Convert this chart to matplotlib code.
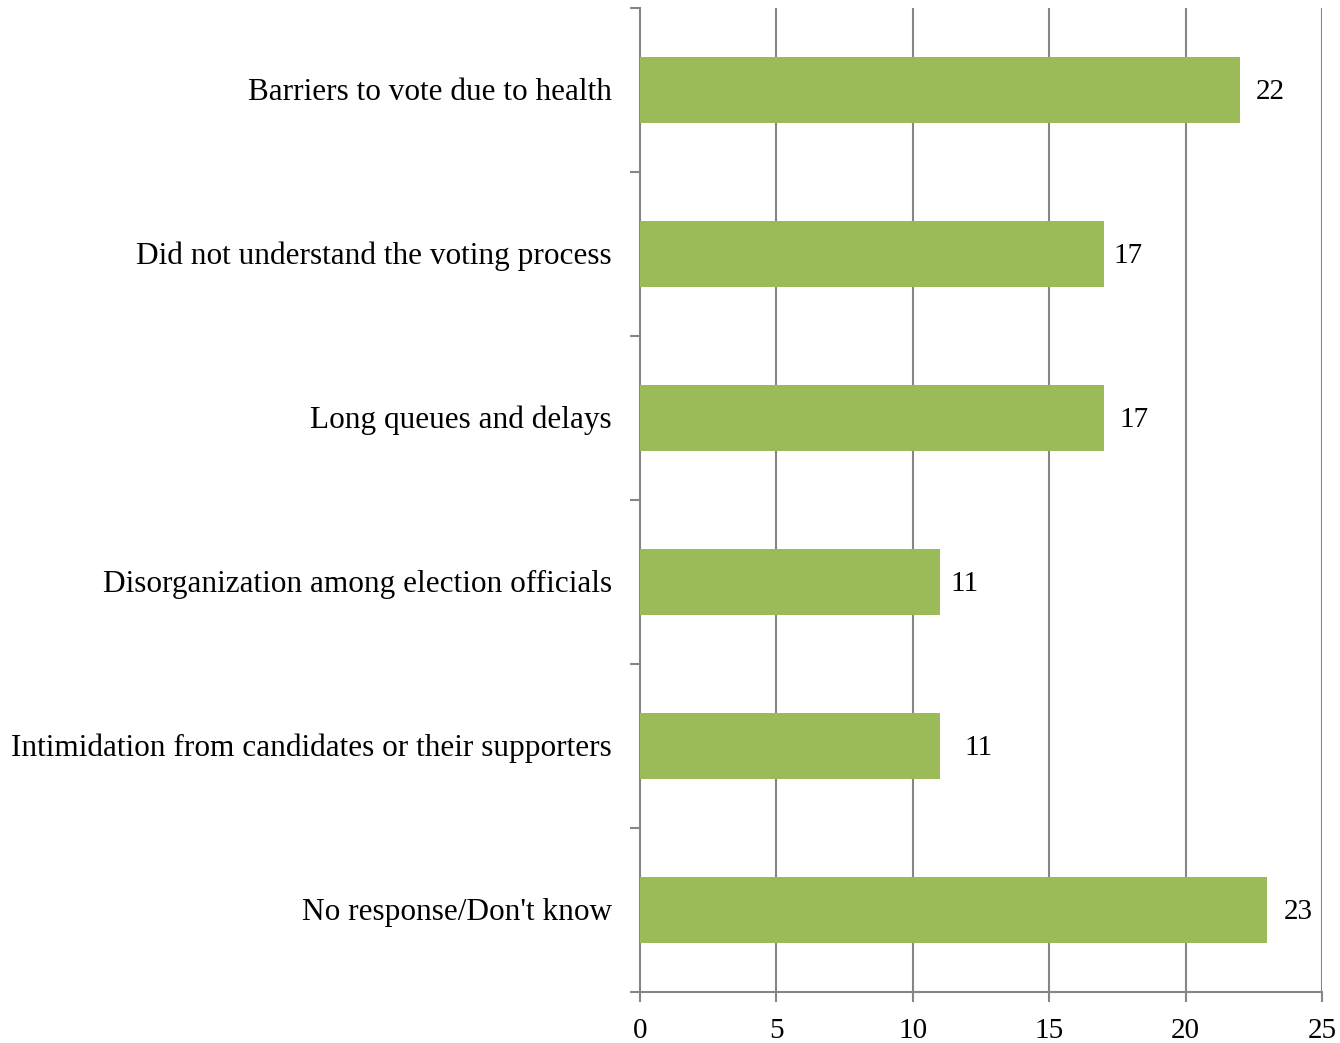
import matplotlib
matplotlib.use("Agg")
import matplotlib.pyplot as plt

categories = [
    "Barriers to vote due to health",
    "Did not understand the voting process",
    "Long queues and delays",
    "Disorganization among election officials",
    "Intimidation from candidates or their supporters",
    "No response/Don't know",
]
values = [22, 17, 17, 11, 11, 23]
xticks = [0, 5, 10, 15, 20, 25]

plt.rcParams['font.family'] = ['Liberation Serif', 'DejaVu Serif']

fig = plt.figure(figsize=(13.4, 10.43), dpi=100)
ax = fig.add_axes([640/1340, 1-992/1043, (1322-640)/1340, (992-8)/1043])

n = len(categories)
ypos = list(range(n))[::-1]
ax.barh(ypos, values, height=0.4, color='#9BBB59', zorder=3)
ax.set_ylim(-0.5, n - 0.5)
ax.set_xlim(0, 25)

gridc = '#868686'
for x in xticks[1:]:
    ax.axvline(x, color=gridc, lw=1.5, zorder=1)
ax.set_xticks(xticks)
ax.set_xticklabels([str(t) for t in xticks], fontsize=21)
ax.tick_params(axis='x', length=7, width=1.5, color=gridc, pad=12)

bounds = [i - 0.5 for i in range(n + 1)]
ax.set_yticks(bounds)
ax.set_yticklabels([])
ax.tick_params(axis='y', length=7, width=1.5, color=gridc)
for y, c in zip(ypos, categories):
    ax.annotate(c, xy=(0, y - 0.015), xycoords=('axes fraction', 'data'), xytext=(-28, 0),
                textcoords='offset pixels', ha='right', va='center', fontsize=22.5)

offsets = [16, 10, 16, 10, 24, 16]
for y, v, o in zip(ypos, values, offsets):
    ax.annotate(str(v), xy=(v, y - 0.015), xytext=(o, 0), textcoords='offset pixels',
                ha='left', va='center', fontsize=21)

for s in ['top', 'right']:
    ax.spines[s].set_visible(False)
for s in ['left', 'bottom']:
    ax.spines[s].set_color(gridc)
    ax.spines[s].set_linewidth(1.5)

fig.savefig('out.png', dpi=100)
